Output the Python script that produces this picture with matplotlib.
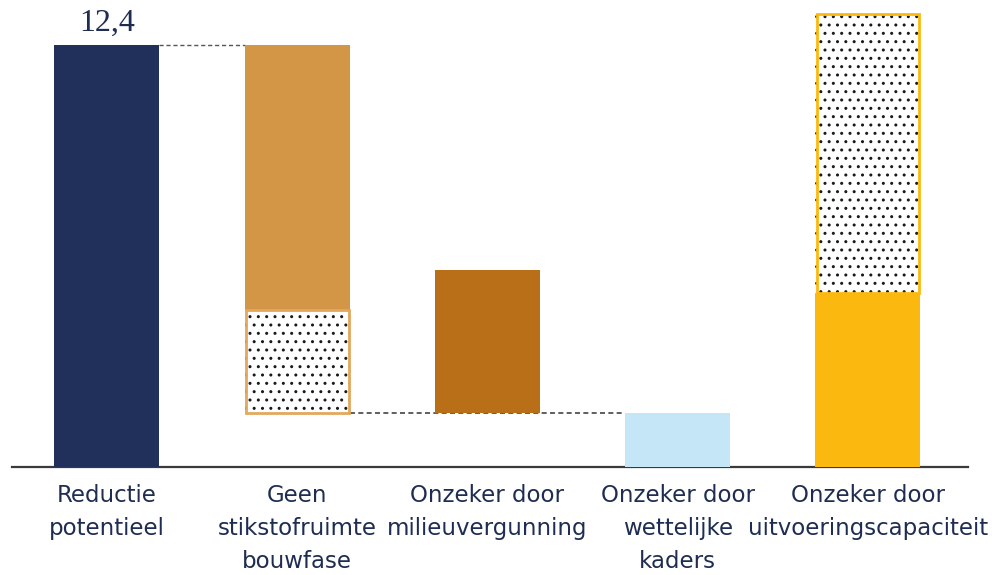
import matplotlib.pyplot as plt

# waterfall values
categories = ["Reductie\npotentieel", "Geen\nstikstofruimte\nbouwfase",
              "Onzeker door\nmilieuvergunning", "Onzeker door\nwettelijke\nkaders",
              "Onzeker door\nuitvoeringscapaciteit"]
solid_bottom = [0, 4.6, 1.6, 0, 0]
solid_height = [12.4, 7.8, 4.2, 1.6, 5.1]
dotted_bottom = [0, 1.6, 0, 0, 5.1]
dotted_height = [0, 3.0, 0, 0, 8.2]
value_label = "12,4"

colors = ['#21305A', '#D29646', '#B86F18', '#C5E6F7', '#FBB910']
dot_edge = ['none', '#E2A85E', 'none', 'none', '#FBB910']
text_color = '#1F2D52'

fig = plt.figure(figsize=(10, 5.75), dpi=100)
ax = fig.add_axes([0.012, 1 - 467 / 575, 0.956, 467 / 575])

x = list(range(len(categories)))
w = 0.552

ax.bar(x, solid_height, bottom=solid_bottom, width=w, color=colors, zorder=3)

plt.rcParams['hatch.linewidth'] = 1.0
for i in x:
    if dotted_height[i] > 0:
        ax.bar(i, dotted_height[i], bottom=dotted_bottom[i], width=w, color='white',
               edgecolor='#1a1a1a', linewidth=0, hatch='..', zorder=3)
        ax.bar(i, dotted_height[i], bottom=dotted_bottom[i], width=w - 0.012, fill=False,
               edgecolor=dot_edge[i], linewidth=2.0, zorder=4)

# connectors
top1 = solid_bottom[0] + solid_height[0]
ax.plot([0 + w / 2, 1 - w / 2], [top1, top1], ls=(0, (3, 2)), color='#555555', lw=1, zorder=2)
low = dotted_bottom[1]
ax.plot([1 + w / 2, 3 - w / 2], [low, low], ls=(0, (3, 2)), color='#444444', lw=1.2, zorder=2)

ax.text(0, top1 + 0.2, value_label, ha='center', va='bottom', fontsize=23,
        family='Liberation Serif', color=text_color)

ax.set_xlim(-0.4993, 4.526)
ax.set_ylim(0, 13.72)
for s in ['top', 'left', 'right']:
    ax.spines[s].set_visible(False)
ax.spines['bottom'].set_color('#3a3a3a')
ax.spines['bottom'].set_linewidth(1.6)
ax.set_yticks([])
ax.set_xticks(x)
ax.set_xticklabels(categories, fontsize=16.5, color=text_color, linespacing=1.56,
                   family='DejaVu Sans')
ax.tick_params(axis='x', length=0, pad=12)

fig.savefig('out.png', dpi=100)
